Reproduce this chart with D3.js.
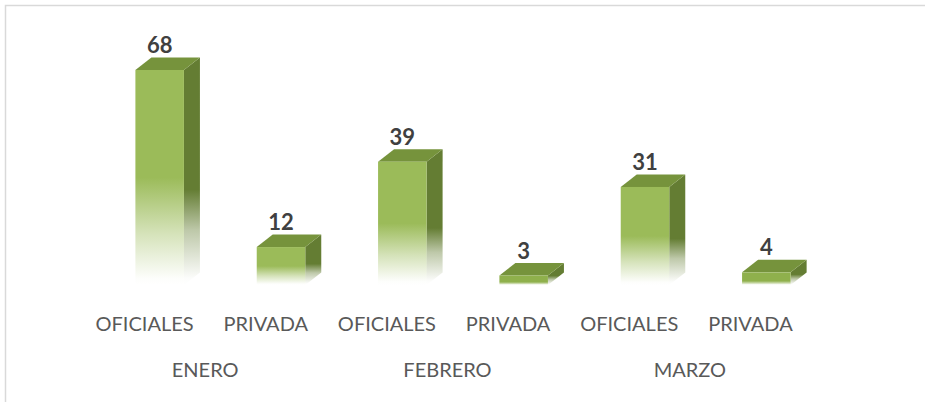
<!DOCTYPE html>
<html><head><meta charset="utf-8">
<script src="https://cdn.jsdelivr.net/npm/d3@7/dist/d3.min.js"></script>
<style>html,body{margin:0;padding:0;background:#fff}svg{display:block}</style>
</head><body><svg id="c" width="925" height="402"></svg>
<script>
const types = ["OFICIALES","PRIVADA","OFICIALES","PRIVADA","OFICIALES","PRIVADA"];
const months = ["ENERO","FEBRERO","MARZO"];
const values = [68,12,39,3,31,4];

const svg = d3.select("#c");
const font = "Lato, 'Open Sans', sans-serif";
const defs = svg.append("defs");
function grad(id,color,start,mid){
  const g = defs.append("linearGradient").attr("id",id).attr("x1",0).attr("y1",0).attr("x2",0).attr("y2",1);
  g.append("stop").attr("offset",0).attr("stop-color",color);
  g.append("stop").attr("offset",start).attr("stop-color",color);
  g.append("stop").attr("offset",mid).attr("stop-color",color).attr("stop-opacity",0.42);
  g.append("stop").attr("offset",0.97).attr("stop-color",color).attr("stop-opacity",0.02);
  g.append("stop").attr("offset",1).attr("stop-color",color).attr("stop-opacity",0);
}
grad("front","#9bbb59",0.5,0.76);
grad("frontShort","#8fb04c",0.68,0.86);
grad("side","#647d33",0.58,0.76);

// frame, open on the right and bottom edges of the picture
svg.append("path").attr("d","M5.5,402V5.5H925").attr("fill","none").attr("stroke","#d9d9d9").attr("stroke-width",1.5);

const x = d3.scaleBand().domain(d3.range(types.length)).range([99,827]).paddingInner(0.6).paddingOuter(0.3);
const xl = d3.scaleBand().domain(d3.range(types.length)).range([84,811]);
const xm = d3.scaleBand().domain(months).range([84,811]);
const y = d3.scaleLinear().domain([0,68]).range([285,70]);
const dx = 16, dy = 12.5;

const bars = svg.append("g").selectAll("g").data(values).join("g");
bars.append("path").attr("fill","url(#side)")
  .attr("d",(d,i)=>{const r=x(i)+x.bandwidth();return `M${r},${y(d)}l${dx},${-dy}V${y(0)-dy}l${-dx},${dy}Z`;});
bars.append("path").attr("fill","#76933c")
  .attr("d",(d,i)=>`M${x(i)},${y(d)}l${dx},${-dy}h${x.bandwidth()}l${-dx},${dy}Z`);
bars.append("rect").attr("fill",d=>d<10?"url(#frontShort)":"url(#front)")
  .attr("x",(d,i)=>x(i)).attr("y",d=>y(d)).attr("width",x.bandwidth()).attr("height",d=>y(0)-y(d));
bars.append("text").attr("x",(d,i)=>x(i)+x.bandwidth()/2).attr("y",d=>y(d)-17)
  .attr("text-anchor","middle").attr("font-family",font).attr("font-weight",700).attr("font-size",22).attr("fill","#404040").text(d=>d);

const ax1 = svg.append("g").attr("transform","translate(0,316.5)")
  .call(d3.axisBottom(xl).tickSize(0).tickPadding(0).tickFormat(i=>types[i]));
const ax2 = svg.append("g").attr("transform","translate(0,335)")
  .call(d3.axisBottom(xm).tickSize(0).tickPadding(28).tickFormat(d=>d));
[ax1,ax2].forEach(a=>{a.select(".domain").remove();a.selectAll("text").attr("font-family",font).attr("font-size",20).attr("fill","#595959");});
</script></body></html>
